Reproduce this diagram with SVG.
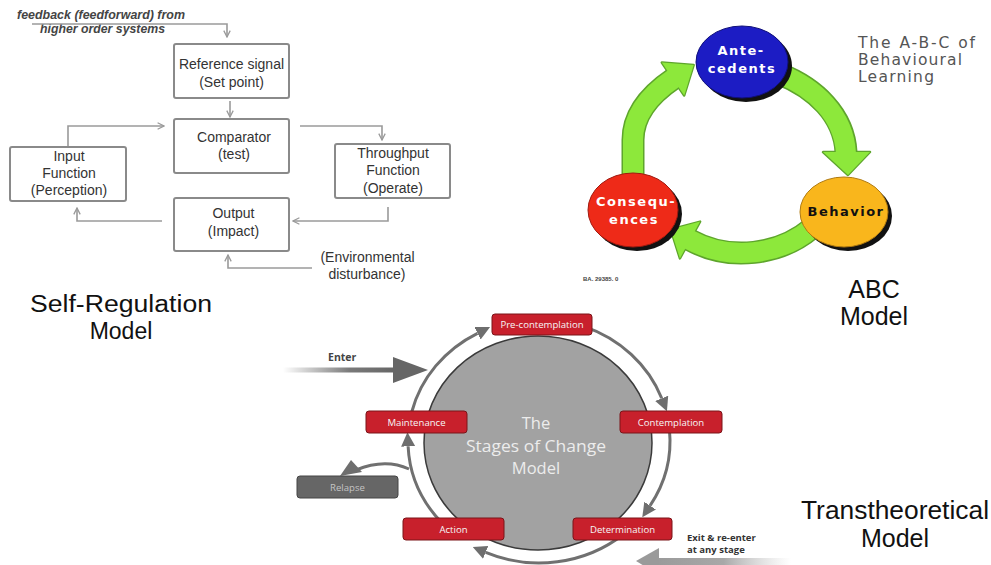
<svg xmlns="http://www.w3.org/2000/svg" width="991" height="565" viewBox="0 0 991 565">
<defs>
<style>
.sbox{fill:#fff;stroke:#8a8a8a;stroke-width:2}
.st{font-family:"Liberation Sans",Arial,sans-serif;font-size:14px;fill:#333;text-anchor:middle}
.sl{fill:none;stroke:#9a9a9a;stroke-width:1.6}
.cap{font-family:"Liberation Sans",Arial,sans-serif;fill:#111;text-anchor:middle}
.abct{font-family:"DejaVu Sans",Verdana,sans-serif;font-weight:bold;font-size:13px;text-anchor:middle;letter-spacing:1.5px}
.band0{fill:none;stroke:#5ea52c;stroke-width:23}
.band1{fill:none;stroke:#8de83b;stroke-width:20}
.head0{fill:#5ea52c;stroke:#5ea52c;stroke-width:2.5;stroke-linejoin:round}
.head1{fill:#8de83b}
.ring{fill:none;stroke:#707070;stroke-width:3}
.rbox{fill:#c8202c;stroke:#7a1418;stroke-width:1}
.rt{font-family:"Open Sans","DejaVu Sans",sans-serif;font-size:9.6px;fill:#f6f6f6;text-anchor:middle}
.ct{font-family:"Open Sans","DejaVu Sans",sans-serif;font-size:16.5px;fill:#ececec;text-anchor:middle}
.abcc{font-family:"DejaVu Sans",Verdana,sans-serif;font-size:15.5px;fill:#555}
</style>
<marker id="chev" viewBox="0 0 10 10" refX="9" refY="5" markerWidth="8" markerHeight="8" markerUnits="userSpaceOnUse" orient="auto">
<path d="M1,1 L9,5 L1,9" fill="none" stroke="#9a9a9a" stroke-width="1.6"/>
</marker>
<marker id="tri" viewBox="0 0 14 14" refX="0" refY="7" markerWidth="14" markerHeight="14" markerUnits="userSpaceOnUse" orient="auto">
<path d="M0,0 L14,7 L0,14 z" fill="#6e6e6e"/>
</marker>
<linearGradient id="enterG" x1="0" y1="0" x2="1" y2="0">
<stop offset="0" stop-color="#6a6a6a" stop-opacity="0"/>
<stop offset="0.6" stop-color="#6a6a6a" stop-opacity="0.9"/>
<stop offset="1" stop-color="#666"/>
</linearGradient>
<linearGradient id="exitG" x1="0" y1="0" x2="1" y2="0">
<stop offset="0" stop-color="#9a9a9a"/>
<stop offset="0.5" stop-color="#a8a8a8"/>
<stop offset="1" stop-color="#c8c8c8" stop-opacity="0"/>
</linearGradient>
</defs>
<rect width="991" height="565" fill="#fff"/>

<!-- Self-Regulation model -->
<g id="sr-feedback-label">
<text x="17" y="19" font-family="Liberation Sans,Arial,sans-serif" font-weight="bold" font-style="italic" font-size="12" fill="#444" textLength="168" lengthAdjust="spacingAndGlyphs">feedback (feedforward) from</text>
<text x="40" y="33" font-family="Liberation Sans,Arial,sans-serif" font-weight="bold" font-style="italic" font-size="12" fill="#444" textLength="125" lengthAdjust="spacingAndGlyphs">higher order systems</text>
</g>
<g id="sr-connectors">
<path class="sl" d="M32 24 H227 V37" marker-end="url(#chev)"/>
<path class="sl" d="M230 101 V117" marker-end="url(#chev)"/>
<path class="sl" d="M68 147 V126 H164" marker-end="url(#chev)"/>
<path class="sl" d="M300 126 H382 V140" marker-end="url(#chev)"/>
<path class="sl" d="M388 207 V221 H293" marker-end="url(#chev)"/>
<path class="sl" d="M162 221 H77 V208" marker-end="url(#chev)"/>
<path class="sl" d="M312 268 H228 V255" marker-end="url(#chev)"/>
</g>
<g id="sr-reference">
<rect class="sbox" x="174" y="44" width="115" height="54" rx="2"/>
<text class="st" x="231.5" y="69">Reference signal</text>
<text class="st" x="231.5" y="87">(Set point)</text>
</g>
<g id="sr-comparator">
<rect class="sbox" x="174" y="119" width="115" height="54" rx="2"/>
<text class="st" x="234" y="142">Comparator</text>
<text class="st" x="234" y="159">(test)</text>
</g>
<g id="sr-input">
<rect class="sbox" x="10" y="147" width="116" height="54" rx="2"/>
<text class="st" x="69" y="161">Input</text>
<text class="st" x="69" y="178">Function</text>
<text class="st" x="69" y="195">(Perception)</text>
</g>
<g id="sr-throughput">
<rect class="sbox" x="335" y="144" width="115" height="54" rx="2"/>
<text class="st" x="393" y="158">Throughput</text>
<text class="st" x="393" y="175">Function</text>
<text class="st" x="393" y="193">(Operate)</text>
</g>
<g id="sr-output">
<rect class="sbox" x="174" y="198" width="115" height="53" rx="2"/>
<text class="st" x="233.5" y="218">Output</text>
<text class="st" x="233.5" y="236">(Impact)</text>
</g>
<g id="sr-environment">
<text class="st" x="367.5" y="262">(Environmental</text>
<text class="st" x="367" y="279">disturbance)</text>
</g>
<g id="sr-title">
<text class="cap" x="121" y="312" font-size="23" textLength="182" lengthAdjust="spacingAndGlyphs">Self-Regulation</text>
<text class="cap" x="121" y="339" font-size="23">Model</text>
</g>

<!-- ABC model -->
<g id="abc-connectors">
<path class="band0" d="M633 182 L633 140 C633 118 645 98 673 79"/>
<path class="band0" d="M780 74 C815 88 844 115 846 152"/>
<path class="band0" d="M812 228 C780 255 730 262 690 240"/>
<polygon class="head0" points="661.8,62.5 693.7,65 684.2,95.5"/>
<polygon class="head0" points="823,152 870,152 848,175"/>
<polygon class="head0" points="700.1,221.6 670.7,229.4 679.9,258.4"/>
<path class="band1" d="M633 182 L633 140 C633 118 645 98 674 78.3"/>
<path class="band1" d="M780 74 C815 88 844 115 846 153.5"/>
<path class="band1" d="M812 228 C780 255 730 262 688.5 239.2"/>
<polygon class="head1" points="661.8,62.5 693.7,65 684.2,95.5"/>
<polygon class="head1" points="823,152 870,152 848,175"/>
<polygon class="head1" points="700.1,221.6 670.7,229.4 679.9,258.4"/>
</g>
<g id="abc-antecedents">
<ellipse cx="746" cy="66" rx="46" ry="36" fill="#111"/>
<ellipse cx="742" cy="62" rx="46" ry="36" fill="#1c1cc4" stroke="#10107a" stroke-width="1"/>
<text class="abct" x="741" y="55" fill="#fff">Ante-</text>
<text class="abct" x="742" y="73" fill="#fff" letter-spacing="1">cedents</text>
</g>
<g id="abc-behavior">
<ellipse cx="848" cy="216" rx="44" ry="35" fill="#111"/>
<ellipse cx="844" cy="212" rx="44" ry="35" fill="#f9b61c" stroke="#b07a10" stroke-width="1"/>
<text class="abct" x="846" y="216" fill="#111">Behavior</text>
</g>
<g id="abc-consequences">
<ellipse cx="637" cy="214" rx="45" ry="37" fill="#111"/>
<ellipse cx="633" cy="210" rx="45" ry="37" fill="#ee2a18" stroke="#a01a10" stroke-width="1"/>
<text class="abct" x="636" y="206" fill="#fff">Consequ-</text>
<text class="abct" x="634" y="224" fill="#fff">ences</text>
</g>
<g id="abc-caption">
<text class="abcc" x="858" y="48" textLength="117" lengthAdjust="spacing">The A-B-C of</text>
<text class="abcc" x="858" y="65" textLength="104" lengthAdjust="spacing">Behavioural</text>
<text class="abcc" x="858" y="82" textLength="76" lengthAdjust="spacing">Learning</text>
<text x="583" y="281" font-family="Liberation Sans,Arial,sans-serif" font-weight="bold" font-size="6" fill="#444">BA. 29385. 0</text>
</g>
<g id="abc-title">
<text class="cap" x="874" y="298" font-size="25">ABC</text>
<text class="cap" x="874" y="325" font-size="25">Model</text>
</g>

<!-- Transtheoretical model -->
<g id="ttm-center">
<ellipse cx="538" cy="443" rx="114" ry="107" fill="#a2a2a2" stroke="#3a3a3a" stroke-width="1.5"/>
<text class="ct" x="536" y="429">The</text>
<text class="ct" x="536" y="451.5" textLength="140" lengthAdjust="spacingAndGlyphs">Stages of Change</text>
<text class="ct" x="536" y="474">Model</text>
</g>
<g id="ttm-connectors">
<path class="ring" d="M411.9 411.5 A131 122 0 0 1 477.5 333.3" marker-end="url(#tri)"/>
<path class="ring" d="M583.8 326.4 A131 122 0 0 1 661.7 398.3" marker-end="url(#tri)"/>
<path class="ring" d="M669.5 430.4 A131 122 0 0 1 650.1 505.6" marker-end="url(#tri)"/>
<path class="ring" d="M623.2 534.5 A131 122 0 0 1 485.7 552.4" marker-end="url(#tri)"/>
<path class="ring" d="M441.7 522.6 A131 122 0 0 1 408.1 446.3" marker-end="url(#tri)"/>
<path class="ring" d="M409 469 Q385 458 356 470"/>
<polygon points="340,476 362,472 351,460" fill="#6e6e6e"/>
<rect x="283" y="367.5" width="112" height="5" fill="url(#enterG)"/>
<polygon points="393,357 428,370 393,383" fill="#666"/>
<text x="328" y="361" font-family="Open Sans,DejaVu Sans,sans-serif" font-weight="bold" font-size="10.5" fill="#444">Enter</text>
<rect x="656" y="558" width="135" height="7" fill="url(#exitG)"/>
<polygon points="636,561 659,548 659,575" fill="#9a9a9a"/>
<text x="687" y="541" font-family="Open Sans,DejaVu Sans,sans-serif" font-weight="bold" font-size="9.5" fill="#333">Exit &amp; re-enter</text>
<text x="687" y="553" font-family="Open Sans,DejaVu Sans,sans-serif" font-weight="bold" font-size="9.5" fill="#333">at any stage</text>
</g>
<g id="ttm-precontemplation">
<rect class="rbox" x="492" y="314" width="100" height="21" rx="3"/>
<text class="rt" x="542" y="328">Pre-contemplation</text>
</g>
<g id="ttm-contemplation">
<rect class="rbox" x="620" y="411" width="102" height="22" rx="3"/>
<text class="rt" x="671" y="425.5">Contemplation</text>
</g>
<g id="ttm-determination">
<rect class="rbox" x="573" y="518" width="99" height="22" rx="3"/>
<text class="rt" x="622.5" y="532.5">Determination</text>
</g>
<g id="ttm-action">
<rect class="rbox" x="403" y="518" width="101" height="22" rx="3"/>
<text class="rt" x="453.5" y="532.5">Action</text>
</g>
<g id="ttm-maintenance">
<rect class="rbox" x="366" y="411" width="101" height="22" rx="3"/>
<text class="rt" x="416.5" y="425.5">Maintenance</text>
</g>
<g id="ttm-relapse">
<rect x="297" y="476" width="101" height="22" rx="3" fill="#666" stroke="#444" stroke-width="1"/>
<text class="rt" x="347.5" y="490.5" style="fill:#c4c4c4">Relapse</text>
</g>
<g id="ttm-title">
<text class="cap" x="895" y="519" font-size="25" textLength="188" lengthAdjust="spacingAndGlyphs">Transtheoretical</text>
<text class="cap" x="895" y="547" font-size="25">Model</text>
</g>
</svg>
